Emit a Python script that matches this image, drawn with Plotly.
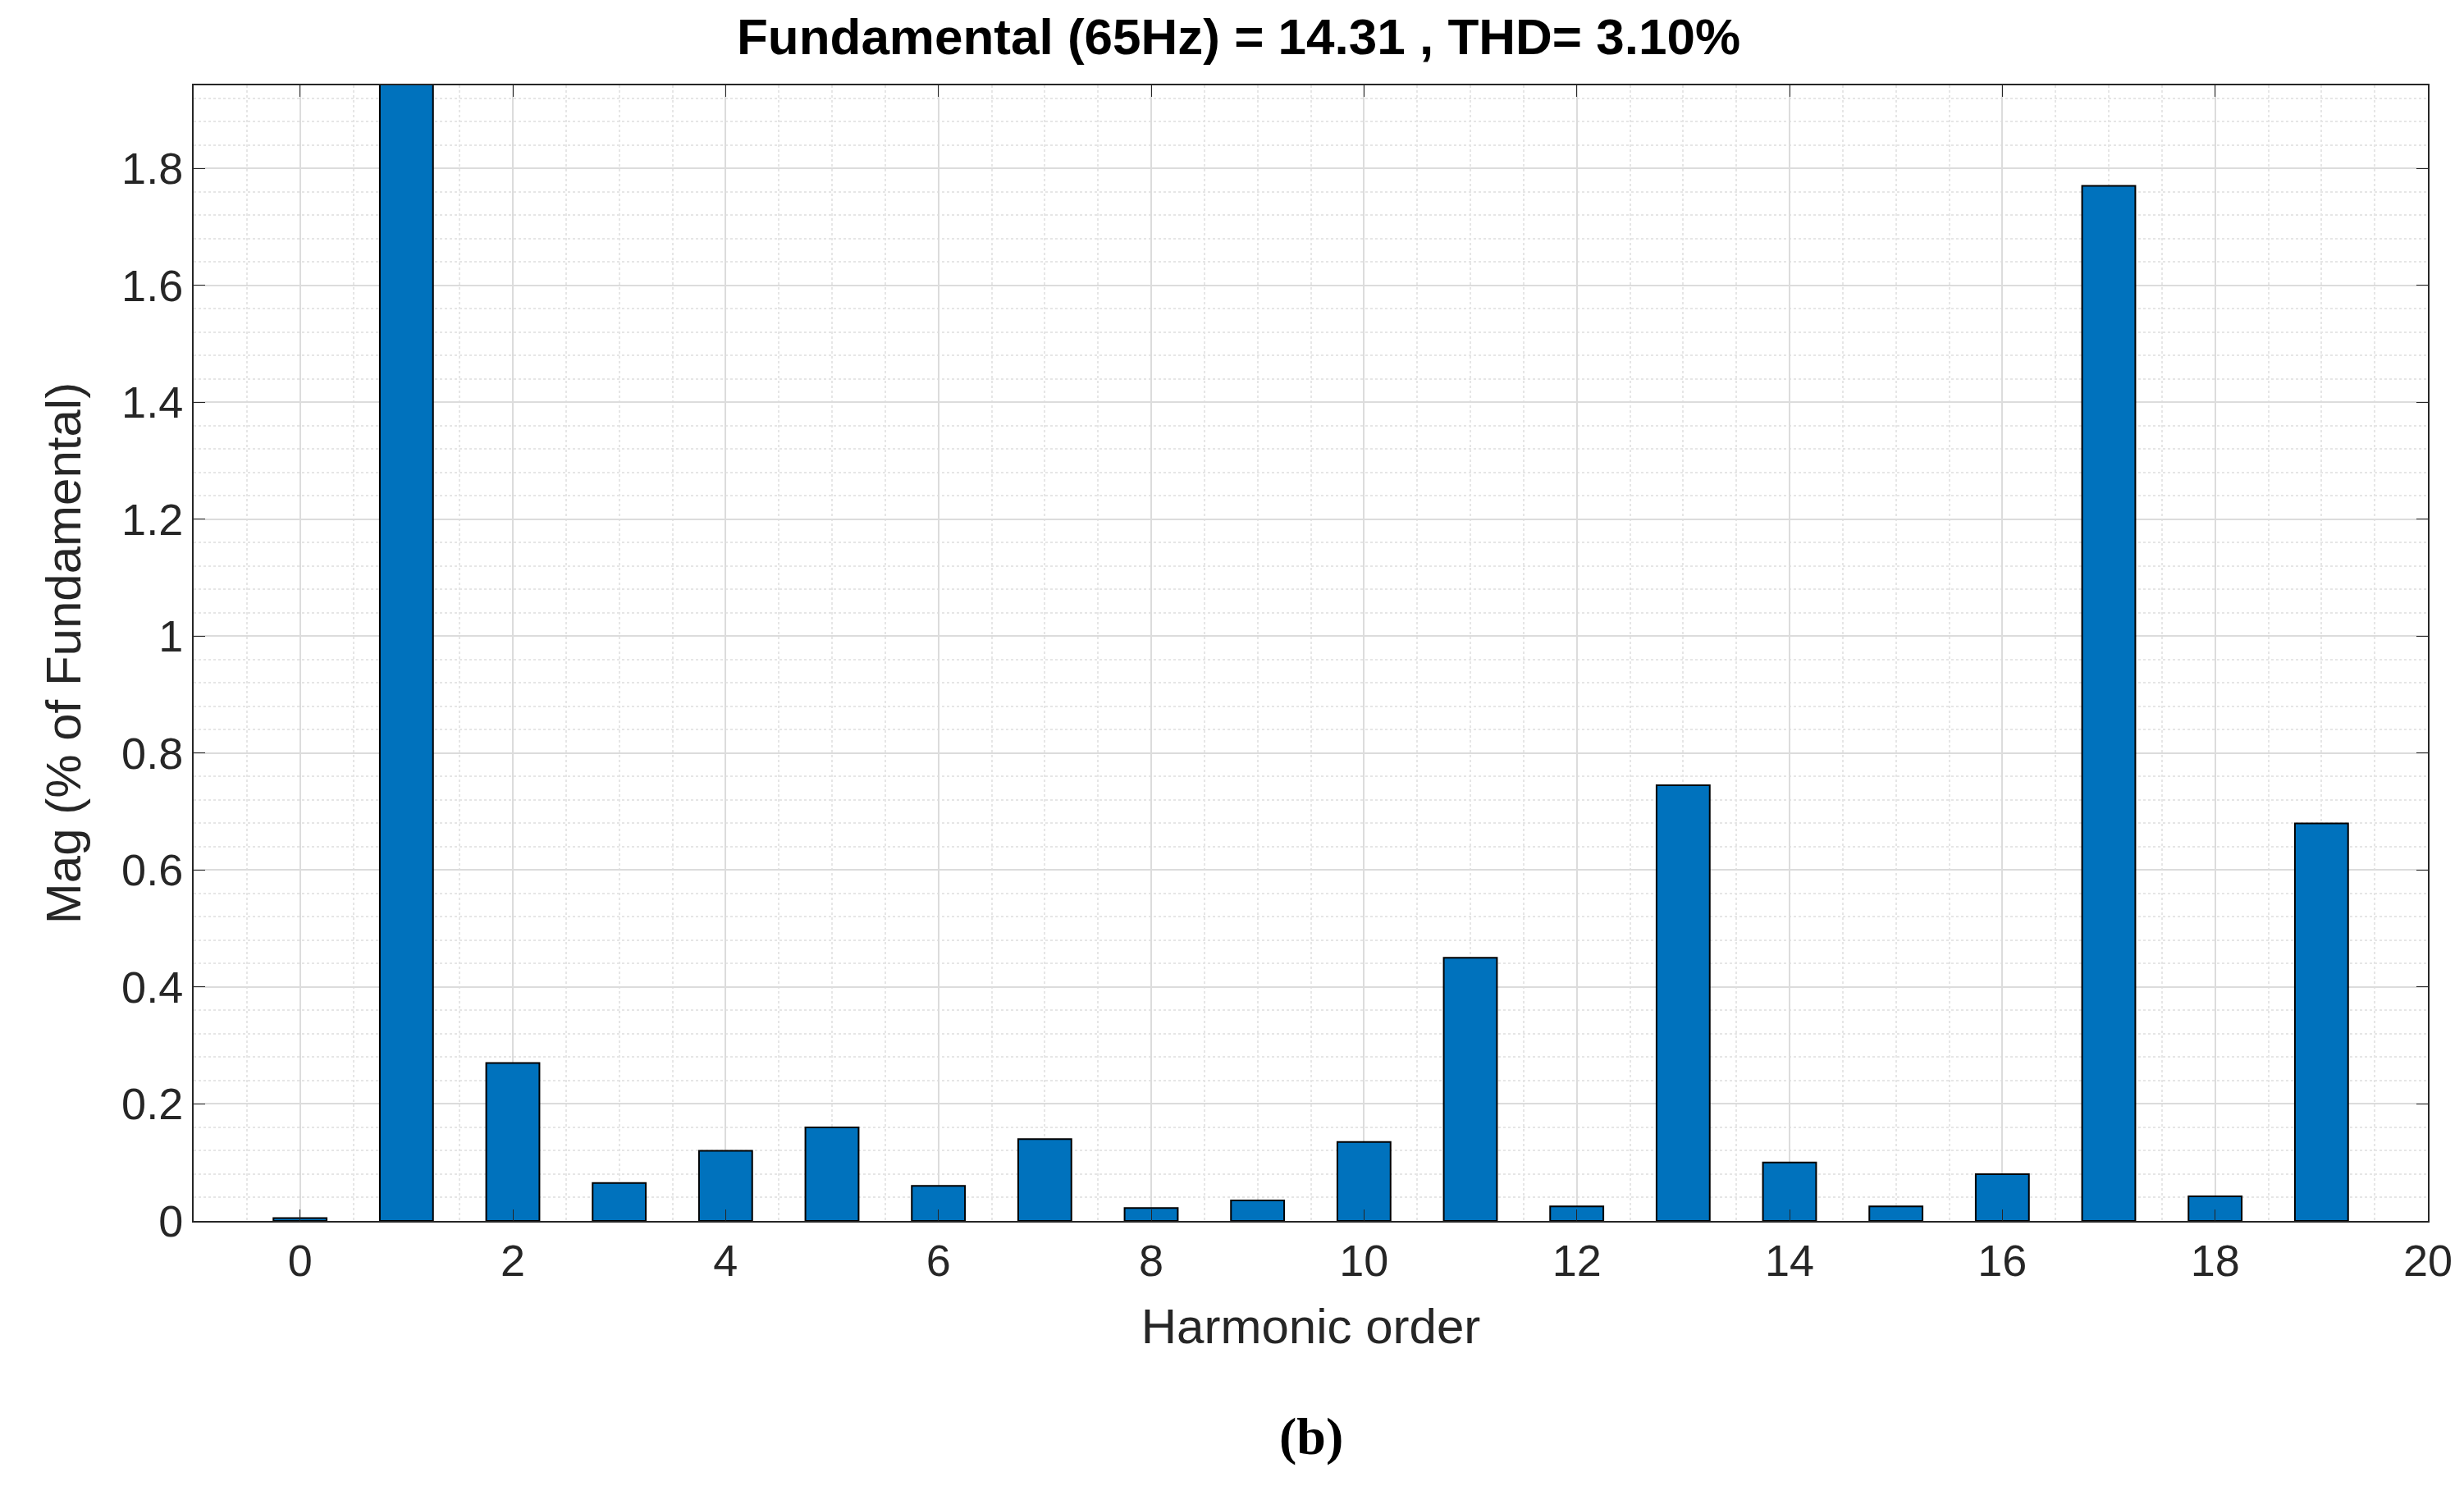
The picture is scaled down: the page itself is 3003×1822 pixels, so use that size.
import plotly.graph_objects as go

orders = list(range(20))
mags = [0.005, 100, 0.27, 0.065, 0.12, 0.16, 0.06, 0.14, 0.022, 0.035, 0.135, 0.45, 0.025, 0.745, 0.1, 0.025, 0.08, 1.77, 0.042, 0.68]
title = "Fundamental (65Hz) = 14.31 , THD= 3.10%"

fig = go.Figure(go.Bar(x=orders, y=mags, width=0.5, marker=dict(color="#0072BD", line=dict(color="black", width=2))))
fig.update_layout(
    width=3003, height=1822, plot_bgcolor="white", paper_bgcolor="white",
    margin=dict(l=228, r=52, t=96, b=342),
    title=dict(text="<b>"+title+"</b>", x=0.5, xanchor="center", y=0.992, yanchor="top",
               font=dict(family="Arial", size=62, color="black")),
    font=dict(family="Arial", color="#262626", size=54),
    showlegend=False,
    annotations=[dict(text="<b>(b)</b>", x=0.5, y=-0.19, xref="paper", yref="paper", showarrow=False,
                      yanchor="middle", font=dict(family="Liberation Serif", size=64, color="black"))],
)
ax = dict(showline=True, linecolor="#262626", linewidth=2, mirror="ticks", ticks="inside", ticklen=14,
          tickcolor="#262626", gridcolor="#dcdcdc", gridwidth=2, zeroline=False,
          tickfont=dict(size=54, family="Arial", color="#262626"))
fig.update_xaxes(**ax, range=[-1, 20], dtick=2, tick0=0,
                 title=dict(text="Harmonic order", font=dict(size=60), standoff=30),
                 minor=dict(dtick=0.5, showgrid=True, gridcolor="#e6e6e6", griddash="dot", gridwidth=2))
fig.update_yaxes(**ax, range=[0, 1.942], tick0=0,
                 title=dict(text="Mag (% of Fundamental)", font=dict(size=60), standoff=30),
                 minor=dict(dtick=0.04, showgrid=True, gridcolor="#e6e6e6", griddash="dot", gridwidth=2))
fig.update_yaxes(tickvals=[0,0.2,0.4,0.6,0.8,1,1.2,1.4,1.6,1.8], ticktext=["0","0.2","0.4","0.6","0.8","1","1.2","1.4","1.6","1.8"])
fig.write_html("out.html")
